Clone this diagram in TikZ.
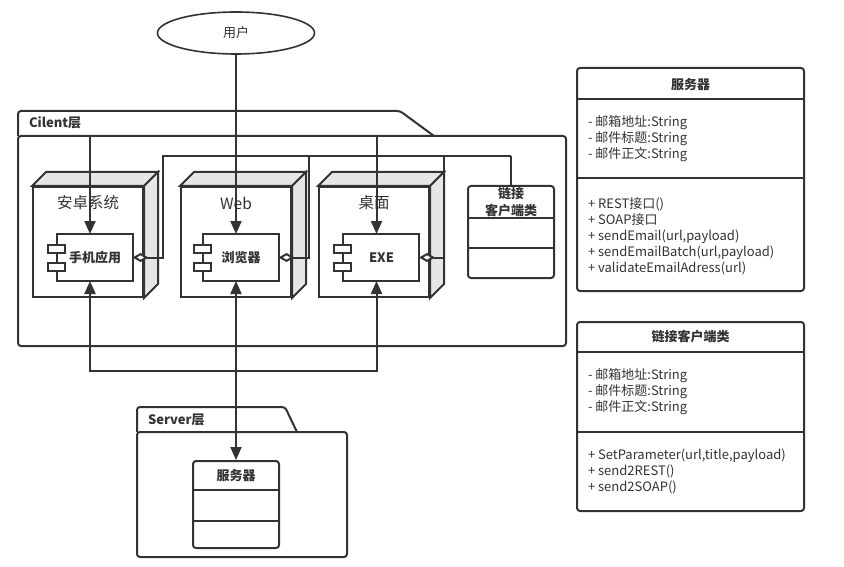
\documentclass[tikz,border=0pt]{standalone}
\usepackage{fontspec}
\setmainfont{Noto Sans CJK SC}
\usetikzlibrary{arrows.meta,calc,shapes.geometric}
\definecolor{ln}{HTML}{333333}
\definecolor{sideface}{HTML}{E6E6E6}
\begin{document}
\begin{tikzpicture}[x=1pt,y=-1pt,color=ln,line width=2pt,
  txt/.style={font=\fontsize{13}{16}\selectfont,inner sep=0pt},
  btxt/.style={font=\bfseries\fontsize{13}{17}\selectfont,inner sep=0pt,align=center},
  bigtxt/.style={font=\fontsize{15.5}{18}\selectfont,inner sep=0pt},
  front/.style={draw,fill=white,minimum width=110pt,minimum height=110pt,inner sep=0pt},
  compbox/.style={minimum width=83pt,minimum height=45pt,inner sep=0pt},
  clsbox/.style={draw,fill=white,rounded corners=3pt,inner sep=0pt},
  arr/.style={-{Triangle[length=13pt,width=11pt]}},
  arrboth/.style={{Triangle[length=13pt,width=11pt]}-{Triangle[length=13pt,width=11pt]}},
  agg/.style={{Diamond[fill=white,length=16pt,width=9pt]}-}
]
\useasboundingbox[fill=white] (0,0) rectangle (844,567);

% user
\node[draw,line width=1.6pt,ellipse,minimum width=157pt,minimum height=42pt,inner sep=0pt,txt] (usr) at (236,33) {用户};

% Cilent frame
\draw[rounded corners=3pt] (18,136) |- (400,111) -- (434,136);
\draw[rounded corners=3pt] (18,136) rectangle (566,346);
\node[btxt,anchor=west] (clab) at (28,123) {Cilent层};

% Server frame
\draw[rounded corners=3pt] (137,432) |- (285,407) -- (297,432);
\draw[rounded corners=3pt] (137,432) rectangle (347,557);
\node[btxt,anchor=west] (slab) at (147,420) {Server层};

% 3D nodes
\foreach \n/\x/\t in {andr/88/安卓系统, web/236/Web, desk/374/桌面}{
  \node[front] (\n) at (\x,242) {};
  \draw[fill=sideface] (\n.north west) -- ++(14,-14) -- ($(\n.north east)+(14,-14)$) -- (\n.north east) -- cycle;
  \draw[fill=sideface] (\n.north east) -- ++(14,-14) -- ($(\n.south east)+(14,-14)$) -- (\n.south east) -- cycle;
  \node[bigtxt] (\n-l) at (\x,203) {\t};
}

% components
\foreach \n/\x/\t in {app/90/手机应用, brw/236/浏览器, exe/376.5/EXE}{
  \node[compbox] (\n) at (\x,257.5) {};
  \draw[fill=white] ([xshift=9pt]\n.north west) rectangle (\n.south east);
  \draw[fill=white] ($(\n.west)+(0,-12.5)$) rectangle ++(17,8);
  \draw[fill=white] ($(\n.west)+(0,5.5)$) rectangle ++(17,8);
  \node[btxt] (\n-l) at ($(\n.center)+(5,0)$) {\t};
}

% link client class (small)
\node[clsbox,minimum width=86pt,minimum height=92pt] (lnk) at (511,232) {};
\draw (lnk.west |- 0,218) -- (lnk.east |- 0,218);
\draw (lnk.west |- 0,248) -- (lnk.east |- 0,248);
\node[btxt] (lnk-l) at (511,202) {链接\\客户端类};

% server class (small)
\node[clsbox,minimum width=86pt,minimum height=87pt] (srv) at (236,504.5) {};
\draw (srv.west |- 0,490) -- (srv.east |- 0,490);
\draw (srv.west |- 0,521) -- (srv.east |- 0,521);
\node[btxt] (srv-l) at (236,476) {服务器};

% connectors
\coordinate (jt) at (236,136);
\coordinate (jb) at (236,371);
\coordinate (ja) at (511,156);
\draw[arr] (usr.south) -- (brw.north);
\draw[arr] (jt) -| (app.north);
\draw[arr] (jt) -| (exe.north);
\draw[arrboth] (brw.south) -- (srv.north);
\draw[arr] (jb) -| (app.south);
\draw[arr] (jb) -| (exe.south);
\draw (lnk.north) -- (ja);
\draw[agg] (app.east) -- ++(30,0) |- (ja);
\draw[agg] (brw.east) -- ++(30,0) |- (ja);
\draw[agg] (exe.east) -- ++(25,0) |- (ja);

% right class: 服务器
\node[clsbox,minimum width=227pt,minimum height=223pt] (cs) at (690.5,179.5) {};
\draw (cs.west |- 0,99) -- (cs.east |- 0,99);
\draw (cs.west |- 0,178) -- (cs.east |- 0,178);
\node[btxt] (cs-t) at (690.5,85) {服务器};
\node[txt,align=left,anchor=west] (cs-a) at (587,139) {- 邮箱地址:String\\- 邮件标题:String\\- 邮件正文:String};
\node[txt,align=left,anchor=west] (cs-m) at (587,236.5) {+ REST接口()\\+ SOAP接口\\+ sendEmail(url,payload)\\+ sendEmailBatch(url,payload)\\+ validateEmailAdress(url)};

% right class: 链接客户端类
\node[clsbox,minimum width=227pt,minimum height=189pt] (cl) at (690.5,416.5) {};
\draw (cl.west |- 0,352) -- (cl.east |- 0,352);
\draw (cl.west |- 0,432) -- (cl.east |- 0,432);
\node[btxt] (cl-t) at (690.5,337) {链接客户端类};
\node[txt,align=left,anchor=west] (cl-a) at (587,392) {- 邮箱地址:String\\- 邮件标题:String\\- 邮件正文:String};
\node[txt,align=left,anchor=west] (cl-m) at (587,471) {+ SetParameter(url,title,payload)\\+ send2REST()\\+ send2SOAP()};
\end{tikzpicture}
\end{document}
